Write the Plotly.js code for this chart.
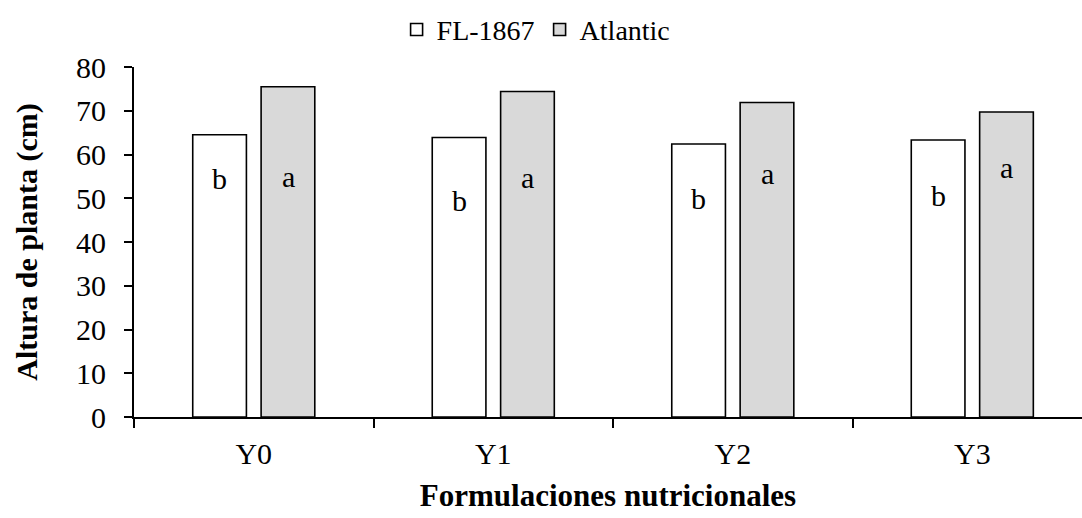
<!DOCTYPE html>
<html>
<head>
<meta charset="utf-8">
<script src="https://cdn.plot.ly/plotly-3.0.1.min.js"></script>
<style>html,body{margin:0;padding:0;background:#fff;}#chart{width:1082px;height:518px;}</style>
</head>
<body>
<div id="chart"></div>
<script>
const categories = ["Y0", "Y1", "Y2", "Y3"];
const fl1867 = [64.5, 63.9, 62.4, 63.3];
const atlantic = [75.5, 74.4, 71.9, 69.7];
const flLetters = ["b", "b", "b", "b"];
const atLetters = ["a", "a", "a", "a"];
const flLetterY = [54.6, 49.5, 50.0, 50.7];
const atLetterY = [55.0, 54.8, 55.7, 57.1];

const FONT = "Liberation Serif";

const traces = [
  {type: "bar", name: "FL-1867", x: categories, y: fl1867,
   marker: {color: "#ffffff", line: {color: "#000000", width: 1.6}}, hoverinfo: "skip"},
  {type: "bar", name: "Atlantic", x: categories, y: atlantic,
   marker: {color: "#d9d9d9", line: {color: "#000000", width: 1.6}}, hoverinfo: "skip"}
];

const off = 0.143;
const annotations = [];
categories.forEach((c, i) => {
  annotations.push({x: i - off, y: flLetterY[i], xref: "x", yref: "y", text: flLetters[i],
    showarrow: false, font: {family: FONT, size: 30, color: "#000"}});
  annotations.push({x: i + off, y: atLetterY[i], xref: "x", yref: "y", text: atLetters[i],
    showarrow: false, font: {family: FONT, size: 30, color: "#000"}});
});

const layout = {
  width: 1082, height: 518,
  margin: {l: 134, r: 0, t: 67, b: 101, pad: 0},
  paper_bgcolor: "#fff", plot_bgcolor: "#fff",
  font: {family: FONT, size: 30, color: "#000"},
  barmode: "group", bargap: 0.429, bargroupgap: 0.215,
  showlegend: true,
  legend: {orientation: "h", x: 0.277, xanchor: "left", y: 1.035, yanchor: "bottom",
    font: {family: "Liberation Serif", size: 28, color: "#000000"}, itemwidth: 30, tracegroupgap: 0,
    bgcolor: "rgba(0,0,0,0)"},
  xaxis: {type: "category", range: [-0.5, 3.458], showline: true, linecolor: "#000", linewidth: 2,
    ticks: "outside", tickson: "boundaries", ticklen: 9, tickwidth: 2, tickcolor: "#000",
    showgrid: false, zeroline: false, fixedrange: true, ticklabelstandoff: 9,
    tickfont: {family: FONT, size: 30, color: "#000"},
    title: {text: "<b>Formulaciones nutricionales</b>", standoff: 15,
      font: {family: FONT, size: 31, color: "#000"}}},
  yaxis: {range: [0, 80], dtick: 10, tick0: 0, showline: true, linecolor: "#000", linewidth: 2,
    ticks: "outside", ticklen: 8, tickwidth: 2, tickcolor: "#000",
    showgrid: false, zeroline: false, fixedrange: true, ticklabelstandoff: 12,
    tickfont: {family: FONT, size: 30, color: "#000"},
    title: {text: "<b>Altura de planta (cm)</b>", standoff: 30,
      font: {family: FONT, size: 30, color: "#000"}}},
  annotations: annotations
};

Plotly.newPlot("chart", traces, layout, {displayModeBar: false, staticPlot: true});
</script>
</body>
</html>
